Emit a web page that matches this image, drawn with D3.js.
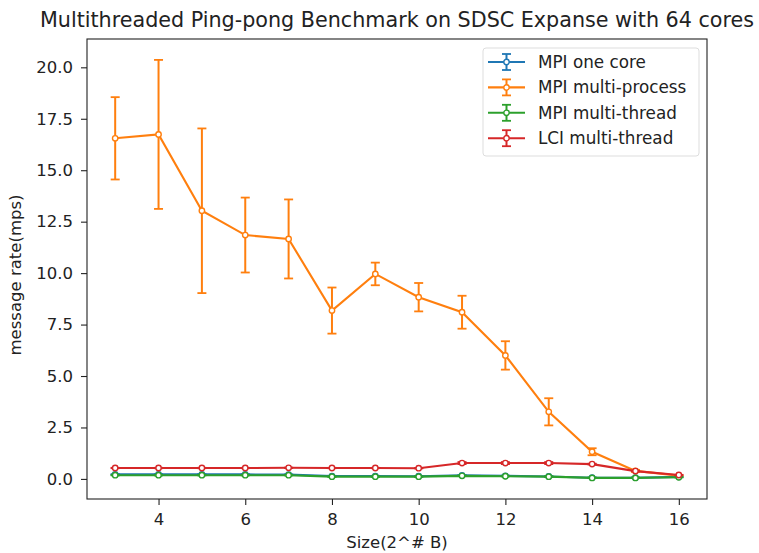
<!DOCTYPE html>
<html>
<head>
<meta charset="utf-8">
<script src="https://cdn.jsdelivr.net/npm/d3@7"></script>
<style>
  body { margin: 0; background: #fff; overflow: hidden; }
  svg { display: block; }
  text { font-family: "DejaVu Sans", sans-serif; fill: #222; }
</style>
</head>
<body>
<div id="chart"></div>
<script>
// message sizes (2^x bytes)
const sizes = [3, 4, 5, 6, 7, 8, 9, 10, 11, 12, 13, 14, 15, 16];

// series values (mps) and their error half-widths
const oneCore = [0.22, 0.22, 0.22, 0.22, 0.21, 0.14, 0.14, 0.13, 0.17, 0.15, 0.12, 0.06, 0.06, 0.10];
const oneCoreErr = [0.01, 0.01, 0.01, 0.01, 0.01, 0.01, 0.01, 0.01, 0.01, 0.01, 0.01, 0.01, 0.01, 0.01];
const multiProcess = [16.55, 16.74, 13.03, 11.85, 11.66, 8.18, 9.96, 8.83, 8.10, 6.00, 3.26, 1.32, 0.39, 0.16];
const multiProcessErr = [2.0, 3.62, 4.0, 1.82, 1.92, 1.12, 0.55, 0.69, 0.8, 0.69, 0.66, 0.17, 0.05, 0.03];
const multiThread = [0.18, 0.18, 0.18, 0.18, 0.18, 0.11, 0.11, 0.11, 0.15, 0.13, 0.11, 0.05, 0.05, 0.08];
const multiThreadErr = [0.01, 0.01, 0.01, 0.01, 0.01, 0.01, 0.01, 0.01, 0.01, 0.01, 0.01, 0.01, 0.01, 0.01];
const lciThread = [0.53, 0.53, 0.53, 0.53, 0.54, 0.53, 0.53, 0.52, 0.77, 0.77, 0.77, 0.72, 0.38, 0.19];
const lciThreadErr = [0.01, 0.01, 0.01, 0.01, 0.01, 0.01, 0.01, 0.01, 0.05, 0.05, 0.05, 0.02, 0.01, 0.01];

const seriesNames = ["MPI one core", "MPI multi-process", "MPI multi-thread", "LCI multi-thread"];
const seriesColors = ["#1f77b4", "#ff7f0e", "#2ca02c", "#d62728"];
const yTicks = [0, 2.5, 5, 7.5, 10, 12.5, 15, 17.5, 20];
const xTicks = [4, 6, 8, 10, 12, 14, 16];

const series = [
    { name: seriesNames[0], color: seriesColors[0], vals: oneCore, err: oneCoreErr },
    { name: seriesNames[1], color: seriesColors[1], vals: multiProcess, err: multiProcessErr },
    { name: seriesNames[2], color: seriesColors[2], vals: multiThread, err: multiThreadErr },
    { name: seriesNames[3], color: seriesColors[3], vals: lciThread, err: lciThreadErr }
];

const width = 759, height = 553;
const margin = { top: 39, right: 52, bottom: 54, left: 87 };
const innerWidth = width - margin.left - margin.right;
const innerHeight = height - margin.top - margin.bottom;
const fontSize = "16.5px";

const svg = d3.select("#chart").append("svg")
    .attr("width", width)
    .attr("height", height);

const g = svg.append("g")
    .attr("transform", "translate(" + margin.left + "," + margin.top + ")");

// matplotlib-like autoscale with 5% margins
const xMin = d3.min(sizes), xMax = d3.max(sizes);
const xPad = (xMax - xMin) * 0.05;
let yLo = d3.min(series, s => d3.min(s.vals, (v, i) => v - s.err[i]));
let yHi = d3.max(series, s => d3.max(s.vals, (v, i) => v + s.err[i]));
const yPad = (yHi - yLo) * 0.05;

const x = d3.scaleLinear().domain([xMin - xPad, xMax + xPad]).range([0, innerWidth]);
const y = d3.scaleLinear().domain([yLo - yPad, yHi + yPad]).range([innerHeight, 0]);

// axes
const xAxis = g.append("g")
    .attr("transform", "translate(0," + innerHeight + ")")
    .call(d3.axisBottom(x).tickValues(xTicks).tickSize(6).tickPadding(8).tickFormat(d3.format("d")));
const yAxis = g.append("g")
    .call(d3.axisLeft(y).tickValues(yTicks).tickSize(6).tickPadding(8).tickFormat(d3.format(".1f")));
[xAxis, yAxis].forEach(a => {
    a.select(".domain").remove();
    a.selectAll("text").style("font-size", fontSize).style("font-family", "DejaVu Sans").attr("fill", "#222");
    a.selectAll("line").attr("stroke", "#222").attr("stroke-width", 1.1);
});

// frame
g.append("rect")
    .attr("width", innerWidth)
    .attr("height", innerHeight)
    .attr("fill", "none")
    .attr("stroke", "#222")
    .attr("stroke-width", 1.1);

const line = d3.line()
    .x((d, i) => x(sizes[i]))
    .y(d => y(d));

const capW = 4.5;
series.forEach(s => {
    const sg = g.append("g");
    // error bars
    s.vals.forEach((v, i) => {
        const cx = x(sizes[i]);
        const y1 = y(v - s.err[i]), y2 = y(v + s.err[i]);
        sg.append("line").attr("x1", cx).attr("x2", cx).attr("y1", y1).attr("y2", y2)
            .attr("stroke", s.color).attr("stroke-width", 2);
        [y1, y2].forEach(yy => {
            sg.append("line").attr("x1", cx - capW).attr("x2", cx + capW).attr("y1", yy).attr("y2", yy)
                .attr("stroke", s.color).attr("stroke-width", 1.8);
        });
    });
    sg.append("path")
        .datum(s.vals)
        .attr("d", line)
        .attr("fill", "none")
        .attr("stroke", s.color)
        .attr("stroke-width", 2.1);
    sg.selectAll("circle")
        .data(s.vals)
        .enter().append("circle")
        .attr("cx", (d, i) => x(sizes[i]))
        .attr("cy", d => y(d))
        .attr("r", 2.7)
        .attr("fill", "#fff")
        .attr("stroke", s.color)
        .attr("stroke-width", 1.4);
});

// title and axis labels
svg.append("text")
    .attr("x", margin.left + innerWidth / 2)
    .attr("y", 27)
    .attr("text-anchor", "middle")
    .style("font-size", "20.7px")
    .text("Multithreaded Ping-pong Benchmark on SDSC Expanse with 64 cores");

svg.append("text")
    .attr("x", margin.left + innerWidth / 2)
    .attr("y", 548)
    .attr("text-anchor", "middle")
    .style("font-size", fontSize)
    .text("Size(2^# B)");

svg.append("text")
    .attr("transform", "translate(21," + (margin.top + innerHeight / 2 + 6) + ") rotate(-90)")
    .attr("text-anchor", "middle")
    .style("font-size", fontSize)
    .text("message rate(mps)");

// legend
const legend = svg.append("g").attr("transform", "translate(483,48)");
legend.append("rect")
    .attr("width", 216)
    .attr("height", 108)
    .attr("rx", 3)
    .attr("fill", "#fff")
    .attr("stroke", "#ddd")
    .attr("stroke-width", 1);
series.forEach((s, i) => {
    const ly = 14 + i * 25.4;
    const lg = legend.append("g").attr("transform", "translate(0," + ly + ")");
    lg.append("line").attr("x1", 5).attr("x2", 42).attr("y1", 0).attr("y2", 0)
        .attr("stroke", s.color).attr("stroke-width", 2.1);
    lg.append("line").attr("x1", 23.5).attr("x2", 23.5).attr("y1", -8).attr("y2", 8)
        .attr("stroke", s.color).attr("stroke-width", 2);
    [-8, 8].forEach(yy => lg.append("line").attr("x1", 19).attr("x2", 28).attr("y1", yy).attr("y2", yy)
        .attr("stroke", s.color).attr("stroke-width", 1.8));
    lg.append("circle").attr("cx", 23.5).attr("cy", 0).attr("r", 2.7)
        .attr("fill", "#fff").attr("stroke", s.color).attr("stroke-width", 1.4);
    lg.append("text").attr("x", 55).attr("y", 6).style("font-size", "16.8px").text(s.name);
});
</script>
</body>
</html>
